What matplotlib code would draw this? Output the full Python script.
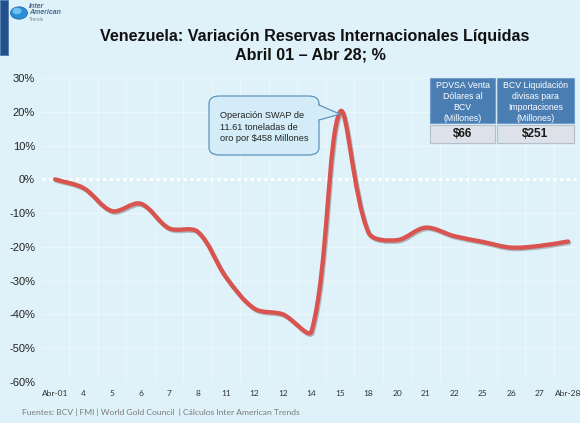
import numpy as np
import matplotlib
matplotlib.use("Agg")
import matplotlib.pyplot as plt
from matplotlib.path import Path
from matplotlib.patches import PathPatch, FancyBboxPatch, Rectangle, Polygon, Circle
import matplotlib.patheffects as pe

# ---------------- data ----------------
categories = ["Abr-01", "4", "5", "6", "7", "8", "11", "12", "12", "14",
              "15", "18", "20", "21", "22", "25", "26", "27", "Abr-28"]
variacion = [0.0, -2.6, -9.4, -7.2, -14.5, -15.5, -29.0, -38.3, -40.0, -45.0,
             20.0, -15.8, -18.0, -14.3, -16.8, -18.5, -20.2, -19.7, -18.4]
y_ticks = [30, 20, 10, 0, -10, -20, -30, -40, -50, -60]
title_l1 = "Venezuela: Variación Reservas Internacionales Líquidas"
title_l2 = "Abril 01 – Abr 28; %"
callout_text = "Operación SWAP de\n11.61 toneladas de\noro por $458 Millones"
table_headers = ["PDVSA Venta\nDólares al\nBCV\n(Millones)",
                 "BCV Liquidación\ndivisas para\nImportaciones\n(Millones)"]
table_values = ["$66", "$251"]
footer = "Fuentes: BCV | FMI | World Gold Council  | Cálculos Inter American Trends"

W, H = 580, 423
BG = "#dff2f9"
plt.rcParams['font.family'] = ['Liberation Sans', 'DejaVu Sans']

fig = plt.figure(figsize=(W / 100, H / 100), dpi=100, facecolor=BG)

def fx(px):
    return px / W

def fy(py):
    return 1 - py / H

# axes
ax_l, ax_r, ax_t, ax_b = 42, 578, 78, 382
ax = fig.add_axes([fx(ax_l), fy(ax_b), fx(ax_r) - fx(ax_l), fy(ax_t) - fy(ax_b)])
ax.set_facecolor(BG)
n = len(categories)
x = np.arange(n)
ax.set_xlim(-0.46, 18.35)
ax.set_ylim(-60, 30)
for s in ax.spines.values():
    s.set_visible(False)

# grid
for yv in y_ticks:
    if yv != 0:
        ax.axhline(yv, color="white", lw=0.8, alpha=0.45, zorder=1)
for xv in np.arange(-0.5, n, 1.0):
    ax.axvline(xv, color="white", lw=0.8, alpha=0.35, zorder=1)
ax.axhline(0, color="white", lw=2.2, ls=(0, (1, 1.2)), zorder=2)

ax.set_yticks(y_ticks)
ax.set_yticklabels([f"{v}%" for v in y_ticks], fontsize=8, color="#222222")
ax.set_xticks(x)
ax.set_xticklabels(categories, fontsize=6.0, color="#333333",
                   family=['Lato', 'DejaVu Sans'])
ax.tick_params(axis='both', length=0)
ax.tick_params(axis='y', pad=5)
ax.tick_params(axis='x', pad=6)

# smooth line: length-weighted Catmull-Rom -> cubic Bezier (data coordinates)
pts = np.column_stack([x, variacion]).astype(float)
sx, sy = 28.5, 3.38  # screen scale used only to weight tangents

def seglen(a, b):
    return np.hypot((b[0] - a[0]) * sx, (b[1] - a[1]) * sy)

verts = [tuple(pts[0])]
codes = [Path.MOVETO]
for i in range(n - 1):
    p1 = pts[i]
    p2 = pts[i + 1]
    d12 = seglen(p1, p2)
    if i > 0:
        p0 = pts[i - 1]
        d01 = seglen(p0, p1)
        c1 = p1 + (p2 - p0) * d12 / (d01 + d12) / 3.0
    else:
        c1 = p1 + (p2 - p1) / 3.0
    if i + 2 < n:
        p3 = pts[i + 2]
        d23 = seglen(p2, p3)
        c2 = p2 - (p3 - p1) * d12 / (d12 + d23) / 3.0
    else:
        c2 = p2 - (p2 - p1) / 3.0
    verts += [tuple(c1), tuple(c2), tuple(p2)]
    codes += [Path.CURVE4] * 3
line = PathPatch(Path(verts, codes), facecolor="none", edgecolor="#d9534f",
                 lw=3.1, capstyle="round", joinstyle="round", zorder=5,
                 path_effects=[pe.SimpleLineShadow(offset=(0.8, -1.0), shadow_color="#333333", alpha=0.3),
                               pe.Normal()])
ax.add_patch(line)

# title
fig.text(fx(315), fy(37), title_l1, ha="center", va="center", fontsize=11.6,
         fontweight="bold", color="#111111")
fig.text(fx(310), fy(55), title_l2, ha="center", va="center", fontsize=11.6,
         fontweight="bold", color="#111111")

# left stripe + logo
fig.patches.append(Rectangle((0, fy(55)), fx(8), 1 - fy(55), transform=fig.transFigure,
                             facecolor="#24508a", edgecolor="#4a7ab5", lw=0.6))
fig.patches.append(Circle((fx(19), fy(13)), 8.5 / W, transform=fig.transFigure,
                          facecolor="#2a8fd6", edgecolor="#1a5ea8", lw=0.5))
fig.patches.append(Circle((fx(17), fy(11)), 4.5 / W, transform=fig.transFigure,
                          facecolor="#7fd0f5", edgecolor="none", alpha=0.8))
fig.text(fx(29), fy(6), "Inter", fontsize=5, style="italic", fontweight="bold",
         color="#4a6a90", va="center")
fig.text(fx(29), fy(13), "American", fontsize=5, style="italic", fontweight="bold",
         color="#4a6a90", va="center")
fig.text(fx(29), fy(19.5), "Trends", fontsize=3.5, color="#7a8fa5", va="center")

# callout
bx0, bx1, by0, by1 = 209, 319, 96, 155
box = FancyBboxPatch((fx(bx0), fy(by1)), fx(bx1) - fx(bx0), fy(by0) - fy(by1),
                     boxstyle="round,pad=0,rounding_size=0.018", transform=fig.transFigure,
                     facecolor="#d3ecf7", edgecolor="#5f93bb", lw=0.9, zorder=6)
fig.patches.append(box)
tip_x = ax.transData.transform((10, 19.3))
tip_f = fig.transFigure.inverted().transform(tip_x)
tail = Polygon([(fx(bx1 - 1.5), fy(105)), tuple(tip_f), (fx(bx1 - 1.5), fy(120))],
               closed=True, transform=fig.transFigure, facecolor="#d3ecf7",
               edgecolor="none", zorder=7)
fig.patches.append(tail)
fig.lines.append(plt.Line2D([fx(bx1), tip_f[0], fx(bx1)], [fy(105), tip_f[1], fy(120)],
                            transform=fig.transFigure, color="#5f93bb", lw=0.9, zorder=8))
fig.text(fx(220), fy(127), callout_text, fontsize=6.6, color="#222222",
         va="center", ha="left", linespacing=1.3, zorder=9)

# table
cols = [(430, 495), (497, 574)]
for (c0, c1), head, val in zip(cols, table_headers, table_values):
    fig.patches.append(Rectangle((fx(c0), fy(123)), fx(c1) - fx(c0), fy(78) - fy(123),
                                 transform=fig.transFigure, facecolor="#4a7eb3",
                                 edgecolor="#6f9cc8", lw=0.8))
    fig.patches.append(Rectangle((fx(c0), fy(143)), fx(c1) - fx(c0), fy(125) - fy(143),
                                 transform=fig.transFigure, facecolor="#dde2ea",
                                 edgecolor="#b5bfcc", lw=0.8))
    fig.text(fx((c0 + c1) / 2), fy(102), head, ha="center", va="center",
             fontsize=6.3, color="white", linespacing=1.3)
    fig.text(fx((c0 + c1) / 2), fy(134), val, ha="center", va="center",
             fontsize=8.5, fontweight="bold", color="#1a1a1a")

# footer
fig.text(fx(22), fy(412), footer, fontsize=6.1, color="#7a7a7a", va="center",
         ha="left", family=['Lato', 'DejaVu Sans'])

fig.savefig("out.png", dpi=100, facecolor=BG)
